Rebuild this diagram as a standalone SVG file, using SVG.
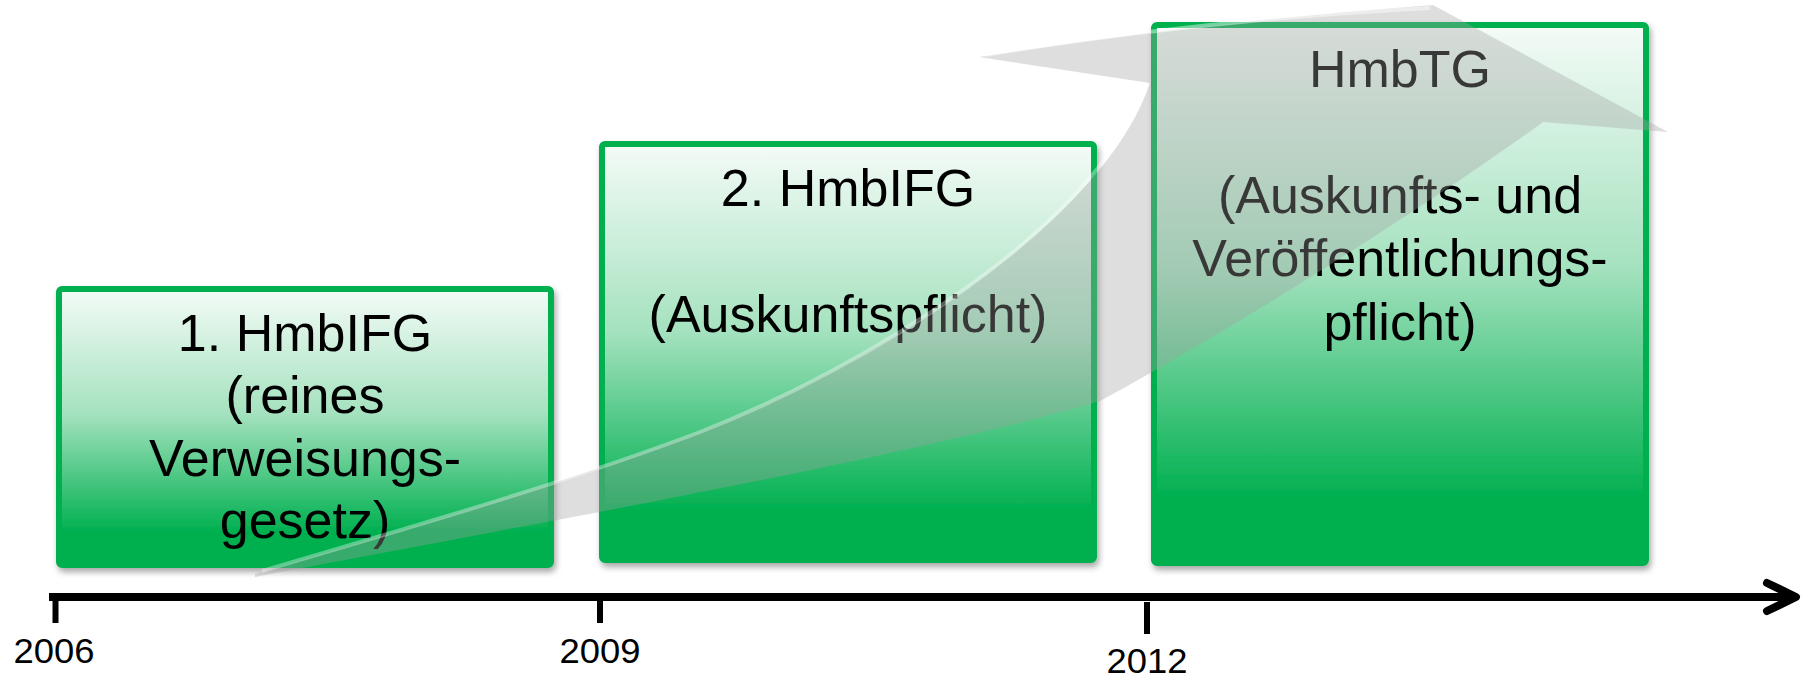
<svg xmlns="http://www.w3.org/2000/svg" width="1805" height="677" viewBox="0 0 1805 677">
<style>
.box{stroke:#00b050;stroke-width:6;fill:url(#g);filter:url(#sh)}
.t{font-family:"Liberation Sans",Arial,sans-serif;font-size:52px;fill:#000;text-anchor:middle}
.y{font-family:"Liberation Sans",Arial,sans-serif;font-size:35px;fill:#000;text-anchor:middle}
.ax{stroke:#000;stroke-width:8;fill:none}
</style>
<defs>
<linearGradient id="g" x1="0" y1="0" x2="0" y2="1">
<stop offset="0" stop-color="#f4fbf7"/>
<stop offset="0.45" stop-color="#a5e2bf"/>
<stop offset="0.88" stop-color="#00b050"/>
<stop offset="1" stop-color="#00b050"/>
</linearGradient>
<filter id="sh" x="-5%" y="-5%" width="110%" height="115%">
<feDropShadow dx="2" dy="4" stdDeviation="3" flood-color="#000" flood-opacity="0.35"/>
</filter>
</defs>
<g id="box1">
<rect class="box" x="59" y="289" width="492" height="276" rx="3"/>
<text class="t" x="305" y="351">1. HmbIFG</text>
<text class="t" x="305" y="413">(reines</text>
<text class="t" x="305" y="476">Verweisungs-</text>
<text class="t" x="305" y="538">gesetz)</text>
</g>
<g id="box2">
<rect class="box" x="602" y="144" width="492" height="416" rx="3"/>
<text class="t" x="848" y="206">2. HmbIFG</text>
<text class="t" x="848" y="332">(Auskunftspflicht)</text>
</g>
<g id="box3">
<rect class="box" x="1154" y="25" width="492" height="538" rx="3"/>
<text class="t" x="1400" y="87">HmbTG</text>
<text class="t" x="1400" y="213">(Auskunfts- und</text>
<text class="t" x="1400" y="276">Veröffentlichungs-</text>
<text class="t" x="1400" y="340">pflicht)</text>
</g>
<g id="swoosh">
<path d="M255,574 C400,530 560,485 700,432 C860,370 1100,230 1150,83 L979,57 Q1200,22 1433,5 L1668,132 L1543,122 C1450,190 1250,320 1100,401 C900,460 500,530 255,577 Z" fill="#a0a0a0" fill-opacity="0.35"/>
<path d="M262,571 C400,530 560,485 700,432 C860,370 1095,230 1146,86" fill="none" stroke="#fff" stroke-opacity="0.35" stroke-width="4"/>
<path d="M985,55 Q1200,20 1430,8" fill="none" stroke="#fff" stroke-opacity="0.45" stroke-width="4"/>
</g>
<g id="connectors">
<line class="ax" x1="49" y1="597" x2="1794" y2="597"/>
<polyline class="ax" points="1767,583 1796,597 1767,611" stroke-linecap="round" stroke-linejoin="round"/>
<line x1="55.5" y1="593" x2="55.5" y2="623" stroke="#000" stroke-width="6"/>
<line x1="600" y1="597" x2="600" y2="623" stroke="#000" stroke-width="6"/>
<line x1="1147" y1="602" x2="1147" y2="634" stroke="#000" stroke-width="6"/>
</g>
<g id="labels">
<text class="y" x="54" y="663" textLength="81" lengthAdjust="spacingAndGlyphs">2006</text>
<text class="y" x="600" y="663" textLength="81" lengthAdjust="spacingAndGlyphs">2009</text>
<text class="y" x="1147" y="673" textLength="81" lengthAdjust="spacingAndGlyphs">2012</text>
</g>
</svg>
